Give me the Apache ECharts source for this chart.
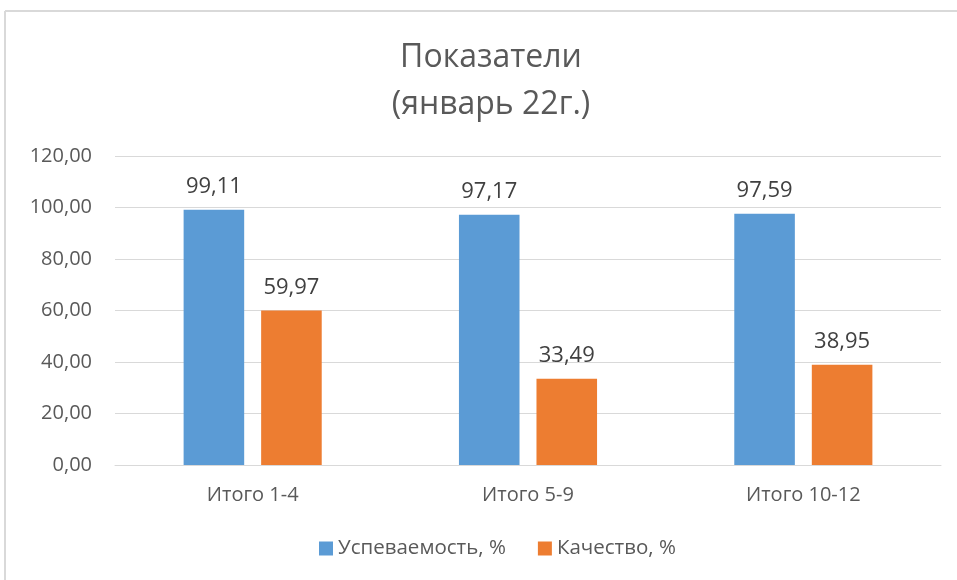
<!DOCTYPE html>
<html>
<head>
  <meta charset="utf-8">
  <title>Показатели</title>
  <script src="https://cdn.jsdelivr.net/npm/echarts/dist/echarts.min.js"></script>
  <style>
    html, body { margin: 0; padding: 0; background: #fff; }
    #chart { width: 957px; height: 580px; }
  </style>
</head>
<body>
  <div id="chart"></div>
  <script>
    const categories = ['Итого 1-4', 'Итого 5-9', 'Итого 10-12'];
    const progress = [99.11, 97.17, 97.59];
    const quality = [59.97, 33.49, 38.95];
    const seriesNames = ['Успеваемость, %', 'Качество, %'];

    const fmt = v => v.toFixed(2).replace('.', ',');
    const font = '"Open Sans", "Liberation Sans", sans-serif';

    const chart = echarts.init(document.getElementById('chart'));
    chart.setOption({
      textStyle: { fontFamily: font },
      graphic: [
        { type: 'line', shape: { x1: 5, y1: 11, x2: 957, y2: 11 }, style: { stroke: '#d9d9d9', lineWidth: 2 } },
        { type: 'line', shape: { x1: 5, y1: 11, x2: 5, y2: 580 }, style: { stroke: '#d9d9d9', lineWidth: 2 } }
      ],
      title: {
        text: 'Показатели\n(январь 22г.)',
        left: 486,
        top: 29,
        textAlign: 'center',
        textStyle: { fontSize: 32, fontWeight: 'normal', color: '#595959', lineHeight: 47, fontFamily: font }
      },
      legend: {
        data: seriesNames,
        bottom: 16,
        left: 314,
        itemWidth: 14,
        itemHeight: 14,
        itemGap: 32,
        icon: 'rect',
        textStyle: { fontSize: 20.5, color: '#595959', fontFamily: font }
      },
      grid: { left: 115, right: 16, top: 156, bottom: 115 },
      xAxis: {
        type: 'category',
        data: categories,
        axisLine: { lineStyle: { color: '#d9d9d9' } },
        axisTick: { show: false },
        axisLabel: { fontSize: 20, color: '#595959', margin: 20, fontFamily: font }
      },
      yAxis: {
        type: 'value',
        min: 0,
        max: 120,
        interval: 20,
        axisLine: { show: false },
        axisTick: { show: false },
        splitLine: { lineStyle: { color: '#d9d9d9' } },
        axisLabel: { fontSize: 20, color: '#595959', margin: 23, formatter: fmt, fontFamily: font }
      },
      series: [
        {
          name: seriesNames[0],
          type: 'bar',
          data: progress,
          barWidth: '22%',
          barGap: '28%',
          itemStyle: { color: '#5b9bd5' },
          label: { show: true, position: 'top', distance: 12, fontSize: 22, color: '#404040', formatter: p => fmt(p.value), fontFamily: font }
        },
        {
          name: seriesNames[1],
          type: 'bar',
          data: quality,
          barWidth: '22%',
          itemStyle: { color: '#ed7d31' },
          label: { show: true, position: 'top', distance: 12, fontSize: 22, color: '#404040', formatter: p => fmt(p.value), fontFamily: font }
        }
      ]
    });
  </script>
</body>
</html>
